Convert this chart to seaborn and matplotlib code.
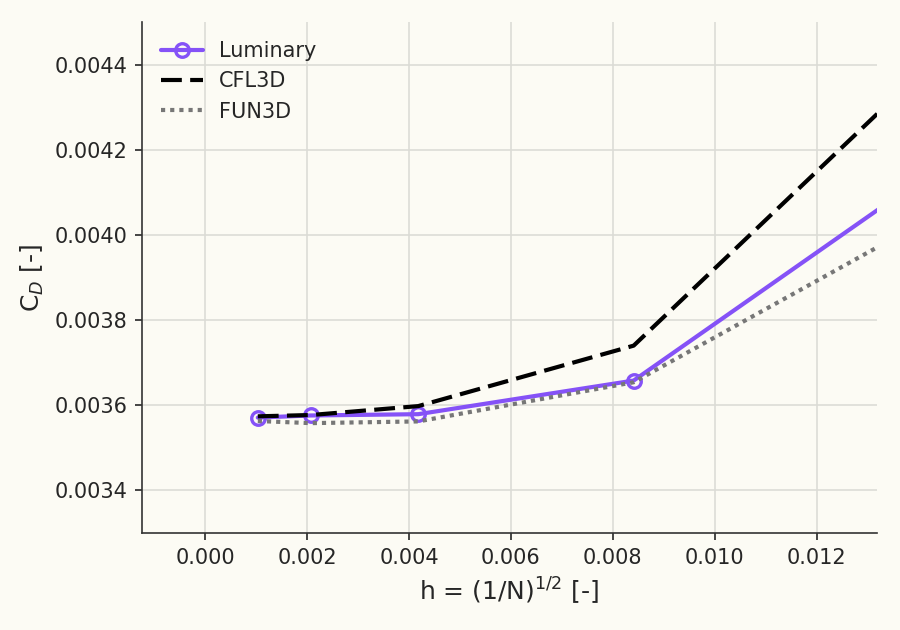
import pandas as pd
import matplotlib
matplotlib.use('Agg')
import matplotlib.pyplot as plt
import seaborn as sns

# grid spacing h and drag coefficient per code
h = [0.00103, 0.00207, 0.00418, 0.00841, 0.01686]
cd_luminary = [0.003571, 0.003576, 0.003579, 0.003658, 0.004365]
cd_cfl3d = [0.003574, 0.003577, 0.003598, 0.003740, 0.004702]
cd_fun3d = [0.003563, 0.003558, 0.003562, 0.003654, 0.004214]

xticks = [0.000, 0.002, 0.004, 0.006, 0.008, 0.010, 0.012]
yticks = [0.0034, 0.0036, 0.0038, 0.0040, 0.0042, 0.0044]

bg = '#fcfbf4'
sns.set_style('whitegrid', {'axes.facecolor': bg, 'figure.facecolor': bg,
                            'grid.color': '#dcdcd6', 'axes.edgecolor': '#333333'})
plt.rcParams['font.family'] = ['DejaVu Sans']

df = pd.DataFrame({'h': h, 'Luminary': cd_luminary, 'CFL3D': cd_cfl3d, 'FUN3D': cd_fun3d})

fig = plt.figure(figsize=(6, 4.2), dpi=150)
ax = fig.add_axes([0.158, 0.154, 0.816, 0.811])

sns.lineplot(data=df, x='h', y='Luminary', ax=ax, color='#8552f7', linewidth=2,
             marker='o', markersize=6.5, markerfacecolor='none', markeredgecolor='#8552f7',
             markeredgewidth=1.6, label='Luminary')
sns.lineplot(data=df, x='h', y='CFL3D', ax=ax, color='black', linewidth=2,
             linestyle=(0, (5, 2)), label='CFL3D')
sns.lineplot(data=df, x='h', y='FUN3D', ax=ax, color='#777777', linewidth=2,
             linestyle=(0, (1, 1.2)), label='FUN3D')

ax.set_xlim(-0.00124, 0.01318)
ax.set_ylim(0.0033, 0.0045)
ax.set_xticks(xticks)
ax.set_xticklabels([f'{t:.3f}' for t in xticks])
ax.set_yticks(yticks)
ax.set_yticklabels([f'{t:.4f}' for t in yticks])
ax.tick_params(axis='both', labelsize=10, colors='#262626', length=3.5, left=True, bottom=True)

ax.set_xlabel('h = (1/N)$^{1/2}$ [-]', fontsize=12, color='#262626')
ax.set_ylabel('C$_D$ [-]', fontsize=12, color='#262626')

sns.despine(ax=ax)

ax.legend(loc='upper left', frameon=False, fontsize=10, labelcolor='#262626')

fig.savefig('out.png', dpi=150, facecolor=bg)
